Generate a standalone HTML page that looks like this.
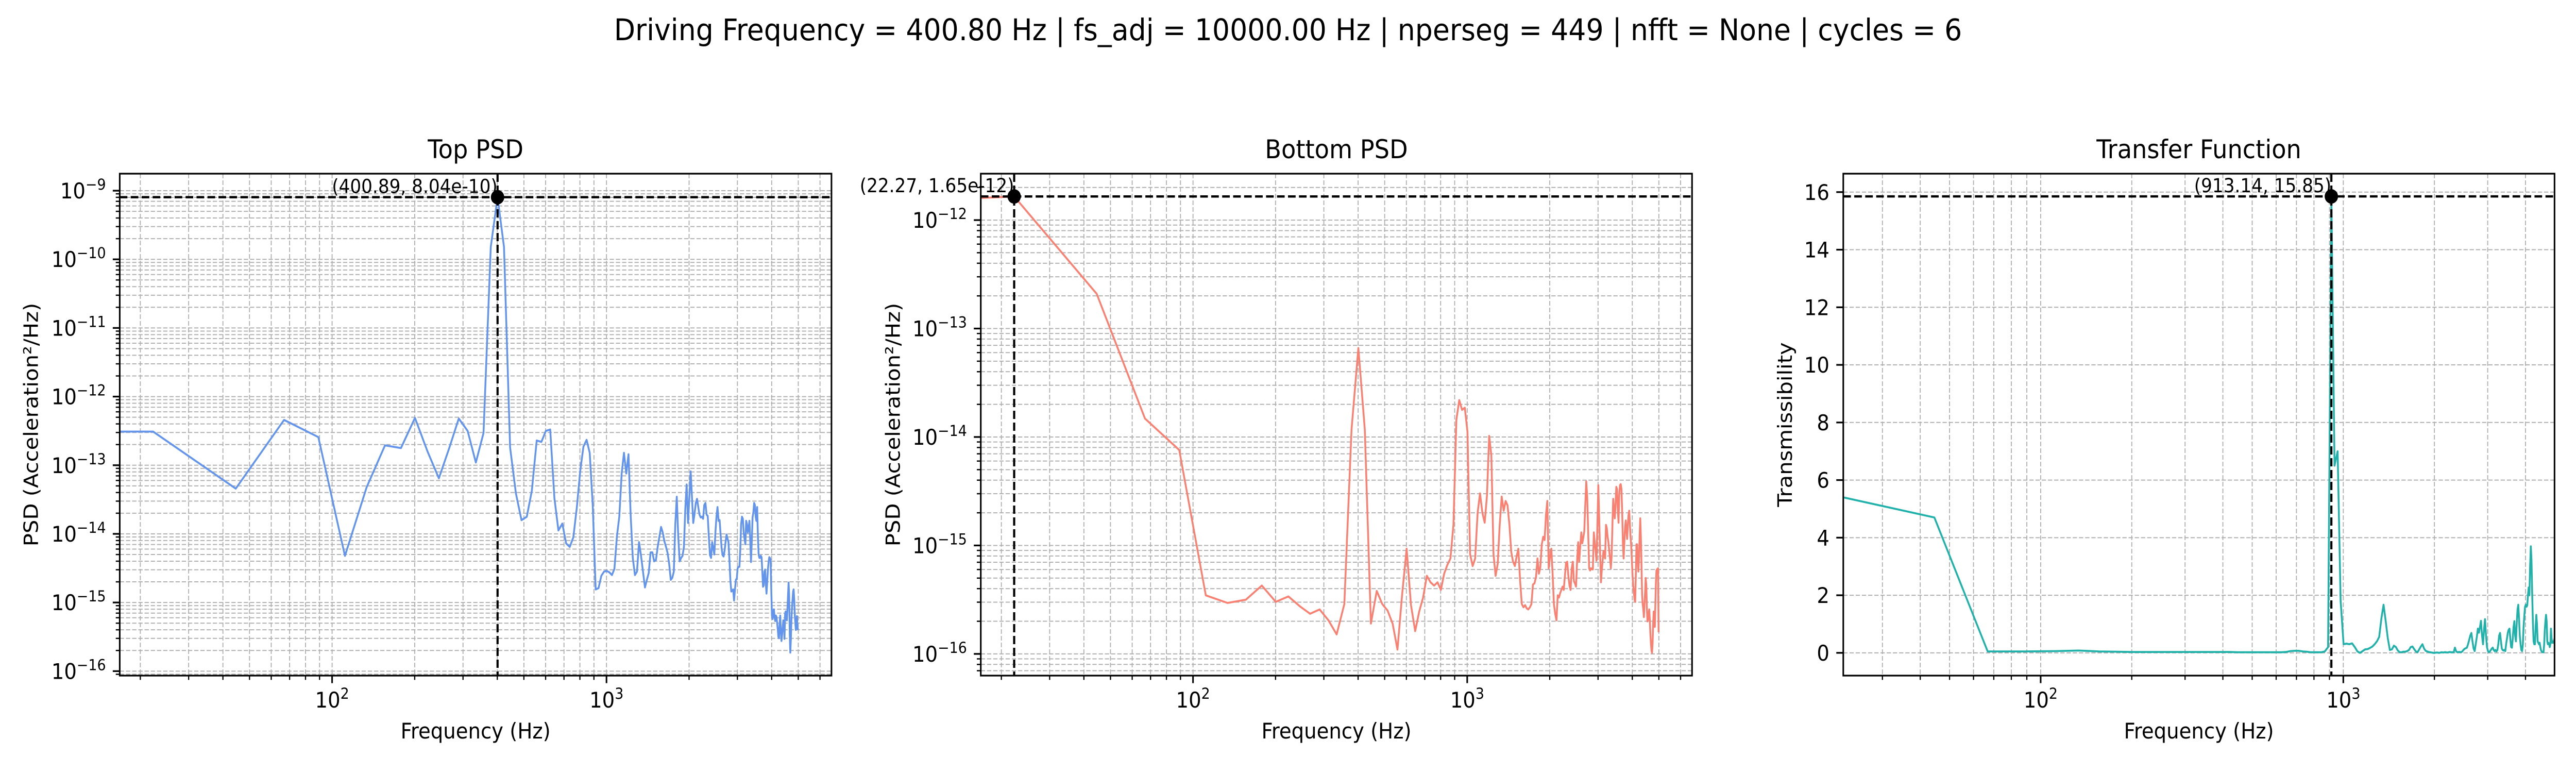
<!DOCTYPE html>
<html><head><meta charset="utf-8"><title>PSD chart</title>
<style>html,body{margin:0;padding:0;background:#fff;overflow:hidden;width:100%;height:100%}svg{display:block;width:100vw;height:100vh}</style></head>
<body>
<svg id="fig" viewBox="0 0 5400 1500" preserveAspectRatio="none" xmlns="http://www.w3.org/2000/svg" font-family="'DejaVu Sans','Liberation Sans',sans-serif">
<rect x="0" y="0" width="5400" height="1500" fill="#fff"/>
<text x="2700" y="78" font-size="58" text-anchor="middle" fill="#000">Driving Frequency = 400.80 Hz | fs_adj = 10000.00 Hz | nperseg = 449 | nfft = None | cycles = 6</text>
</svg>
<script>
// ---- data ----
const sampleRate = 10000;
const nperseg = 449;
const binCount = 225;
// Top PSD, log10 of value, bins k=0..224
const topPsdLog10 = [
-12.51,-12.51,-13.34,-12.34,-12.59,-14.32,-13.32,-12.71,-12.75,-12.31,
-12.80,-13.19,-12.75,-12.32,-12.50,-12.96,-12.53,-9.82,-9.0947,-9.82,
-12.74,-13.41,-13.80,-13.75,-13.37,-12.64,-12.66,-12.50,-12.48,-13.48,
-13.95,-13.85,-14.14,-14.19,-14.05,-13.62,-13.09,-12.73,-12.63,-12.82,
-13.58,-14.81,-14.79,-14.61,-14.55,-14.54,-14.56,-14.60,-14.51,-14.04,
-13.75,-13.12,-12.82,-13.12,-12.84,-13.72,-14.35,-14.60,-14.55,-14.12,
-14.32,-14.55,-14.78,-14.67,-14.57,-14.27,-14.27,-14.40,-14.38,-14.19,
-14.04,-13.90,-13.98,-14.11,-14.19,-14.28,-14.44,-14.67,-14.64,-14.55,
-13.86,-13.46,-14.04,-14.40,-14.35,-14.32,-14.19,-13.63,-13.28,-13.84,
-13.46,-13.09,-13.46,-13.84,-13.71,-13.55,-13.49,-13.61,-13.72,-13.76,
-13.75,-13.78,-13.58,-13.55,-13.72,-13.74,-14.04,-14.31,-14.35,-14.12,
-14.21,-14.30,-13.98,-13.75,-13.61,-13.81,-13.80,-14.01,-14.21,-14.31,
-14.33,-14.24,-14.12,-14.01,-14.07,-14.12,-14.38,-14.68,-14.84,-14.83,
-14.81,-14.97,-14.81,-14.67,-14.65,-14.50,-14.48,-14.48,-14.24,-13.86,
-13.75,-13.78,-13.98,-14.07,-14.15,-13.81,-13.86,-13.98,-13.92,-13.81,
-14.09,-14.41,-14.09,-13.76,-13.69,-13.55,-13.58,-13.75,-13.81,-13.61,
-14.04,-14.30,-14.35,-14.35,-14.32,-14.34,-14.55,-14.77,-14.75,-14.55,
-14.52,-14.73,-14.87,-14.70,-14.52,-14.41,-14.34,-14.35,-14.38,-14.81,
-15.19,-15.24,-15.13,-15.10,-15.21,-15.27,-15.19,-15.21,-15.30,-15.39,
-15.50,-15.52,-15.30,-15.19,-15.42,-15.56,-15.47,-15.36,-15.26,-15.30,
-15.53,-15.16,-15.13,-15.21,-15.26,-15.10,-14.90,-14.71,-14.90,-15.44,
-15.73,-15.53,-15.24,-15.07,-14.96,-14.84,-14.81,-14.96,-15.16,-15.30,
-15.40,-15.30,-15.20,-15.35,-15.40];
// Bottom PSD, log10 of value, bins k=0..224
const bottomPsdLog10 = [
-11.80,-11.782,-12.68,-13.83,-14.12,-15.46,-15.53,-15.50,-15.37,-15.52,
-15.47,-15.56,-15.63,-15.59,-15.69,-15.82,-15.54,-13.93,-13.18,-13.93,
-15.72,-15.42,-15.54,-15.60,-15.72,-15.96,-15.45,-15.03,-15.55,-15.79,
-15.61,-15.48,-15.28,-15.34,-15.37,-15.34,-15.41,-15.26,-15.18,-15.12,
-14.81,-13.84,-13.66,-13.75,-13.73,-13.95,-15.08,-15.19,-15.12,-14.70,
-14.52,-14.70,-14.79,-14.54,-13.99,-14.17,-15.08,-15.28,-15.17,-14.81,
-14.55,-14.68,-14.59,-14.63,-14.81,-15.06,-15.15,-15.19,-15.10,-15.03,
-15.32,-15.54,-15.57,-15.55,-15.58,-15.59,-15.57,-15.54,-15.36,-15.35,
-15.29,-15.12,-15.26,-15.20,-14.99,-14.92,-14.95,-14.72,-14.59,-15.21,
-15.10,-15.03,-15.26,-15.54,-15.63,-15.69,-15.46,-15.48,-15.44,-15.41,
-15.38,-15.41,-15.28,-15.16,-15.15,-15.28,-15.37,-15.41,-15.21,-15.15,
-15.33,-15.35,-15.38,-15.14,-14.97,-15.15,-15.01,-14.88,-14.98,-14.93,
-14.87,-14.63,-14.41,-14.55,-14.88,-15.21,-15.23,-15.21,-15.22,-15.22,
-14.88,-14.97,-15.05,-15.14,-14.81,-14.445,-14.74,-15.05,-15.34,-15.23,
-15.14,-15.05,-15.08,-15.12,-14.81,-14.84,-14.92,-14.97,-15.05,-15.12,
-15.21,-15.10,-14.81,-14.57,-14.66,-14.75,-14.63,-14.46,-14.48,-14.66,
-14.79,-14.52,-14.445,-14.435,-14.48,-14.70,-14.99,-15.12,-14.97,-14.84,
-14.77,-14.86,-14.94,-14.81,-14.72,-14.68,-14.81,-14.92,-15.01,-15.14,
-15.28,-15.37,-15.43,-15.50,-15.52,-15.28,-14.99,-14.99,-15.14,-15.24,
-15.12,-14.92,-14.75,-14.92,-15.17,-15.46,-15.54,-15.59,-15.66,-15.54,
-15.43,-15.30,-15.37,-15.57,-15.70,-15.68,-15.63,-15.59,-15.68,-15.81,
-15.90,-15.97,-15.99,-15.90,-15.72,-15.61,-15.68,-15.75,-15.54,-15.35,
-15.23,-15.22,-15.22,-15.21,-15.80];
// Transmissibility, bins k=1..224
const transferValues = [
5.4,4.7,0.05,0.05,0.06,0.08,0.05,0.04,0.03,0.03,
0.03,0.03,0.03,0.03,0.03,0.03,0.03,0.03,0.03,0.02,
0.02,0.02,0.02,0.02,0.02,0.02,0.02,0.02,0.03,0.06,
0.07,0.07,0.05,0.04,0.02,0.02,0.02,0.02,0.05,0.2,
15.85,6.5,7.0,1.8,0.3,0.32,0.3,0.33,0.2,0.05,
0.0,0.06,0.12,0.13,0.17,0.22,0.3,0.4,0.55,1.2,
1.67,1.1,0.5,0.1,0.12,0.25,0.2,0.08,0.02,0.02,
0.04,0.04,0.06,0.1,0.2,0.22,0.13,0.05,0.02,0.12,
0.22,0.3,0.15,0.07,0.05,0.03,0.02,0.01,0.0,0.0,
0.01,0.01,0.0,0.01,0.02,0.01,0.02,0.02,0.01,0.02,
0.03,0.02,0.02,
0.02,0.18,0.05,0.02,0.03,0.03,0.02,0.05,0.1,0.14,
0.16,0.18,0.3,0.45,0.6,0.69,0.4,0.15,0.06,0.3,
0.55,0.84,0.7,0.9,1.11,0.6,0.3,0.8,1.17,0.6,
0.2,0.06,0.02,0.05,0.1,0.15,0.18,0.1,0.06,0.1,
0.05,0.1,0.3,0.6,0.69,0.4,0.15,0.1,0.08,0.1,
0.06,0.3,0.5,0.7,0.8,0.84,0.5,0.2,0.18,0.5,
0.9,1.1,0.6,0.4,1.0,1.5,1.67,1.2,0.6,0.3,
0.1,0.06,0.3,0.9,1.3,1.6,1.67,1.6,1.65,2.0,
2.27,2.0,3.0,3.7,3.2,2.0,1.1,0.4,0.3,0.3,
0.9,1.32,1.0,0.4,0.35,0.3,0.35,0.2,0.1,0.05,
0.03,0.02,0.02,0.3,0.8,1.1,1.32,1.1,0.4,0.3,
0.35,0.3,0.2,0.3,0.84,0.5,0.35,0.4,0.35,0.4,0.5];
const logYTickExps = [[-16,-15,-14,-13,-12,-11,-10,-9],[-16,-15,-14,-13,-12]];
const linYTicks = [0,2,4,6,8,10,12,14,16];

// ---- drawing ----
const NS = 'http://www.w3.org/2000/svg';
const svg = document.getElementById('fig');
const df = sampleRate / nperseg;
function el(tag, parent) { const e = document.createElementNS(NS, tag); parent.appendChild(e); return e; }
function attrs(e, o) { for (const k in o) e.setAttribute(k, o[k]); return e; }

const panels = [
  {key:'top', title:'Top PSD', ylabel:'PSD (Acceleration²/Hz)', left:251, right:1743, top:337, bottom:1311,
   xlim:[1.226,3.820], ylog:true, ylim:[-16.065,-8.752], color:'#6495ED', data:topPsdLog10, start:0, yticks:logYTickExps[0], ylabelX:66, yMinorGrid:true},
  {key:'bottom', title:'Bottom PSD', ylabel:'PSD (Acceleration²/Hz)', left:2056, right:3547, top:337, bottom:1311,
   xlim:[1.226,3.820], ylog:true, ylim:[-16.20,-11.572], color:'#FA8072', data:bottomPsdLog10, start:0, yticks:logYTickExps[1], ylabelX:1873, yMinorGrid:true},
  {key:'transfer', title:'Transfer Function', ylabel:'Transmissibility', left:3864, right:5355, top:337, bottom:1311,
   xlim:[Math.log10(df), Math.log10(df*(binCount-1))], ylog:false, ylim:[-0.79,16.64], color:'#20B2AA', data:transferValues, start:1, yticks:linYTicks, ylabelX:3743, yMinorGrid:false}
];

panels.forEach(p => {
  const g = el('g', svg);
  
  
  const xs = f => f <= 0 ? p.left - 20 : p.left + (Math.log10(f) - p.xlim[0]) / (p.xlim[1] - p.xlim[0]) * (p.right - p.left);
  const xsl = lg => p.left + (lg - p.xlim[0]) / (p.xlim[1] - p.xlim[0]) * (p.right - p.left);
  const ysv = v => p.bottom - (v - p.ylim[0]) / (p.ylim[1] - p.ylim[0]) * (p.bottom - p.top);
  const H = p.bottom - p.top;

  const cp = el('clipPath', g); cp.setAttribute('id', 'clip-' + p.key);
  attrs(el('rect', cp), {x:p.left, y:p.top, width:p.right-p.left, height:H});

  const grid = el('g', g);
  
  
  attrs(grid, {stroke:'#b0b0b0', 'stroke-width':2, 'stroke-dasharray':'9,4', fill:'none'});
  const xMajor = [], xMinor = [];
  for (let d = Math.floor(p.xlim[0]); d <= Math.ceil(p.xlim[1]); d++) {
    for (let m = 1; m <= 9; m++) {
      const lg = d + Math.log10(m);
      if (lg < p.xlim[0] - 1e-6 || lg > p.xlim[1] + 1e-6) continue;
      (m === 1 ? xMajor : xMinor).push(lg);
    }
  }
  [...xMajor, ...xMinor].forEach(lg => {
    const x = xsl(lg);
    const ln = attrs(el('line', grid), {x1:x, x2:x, y1:p.top, y2:p.bottom});
    
    
  });
  const yMajor = [], yMinor = [];
  if (p.ylog) {
    for (let d = Math.floor(p.ylim[0]); d <= Math.ceil(p.ylim[1]); d++) {
      for (let m = 1; m <= 9; m++) {
        const lg = d + Math.log10(m);
        if (lg < p.ylim[0] || lg > p.ylim[1]) continue;
        (m === 1 ? yMajor : yMinor).push(lg);
      }
    }
  } else { p.yticks.forEach(v => yMajor.push(v)); }
  (p.yMinorGrid ? [...yMajor, ...yMinor] : yMajor).forEach(v => {
    const y = ysv(v);
    const ln = attrs(el('line', grid), {x1:p.left, x2:p.right, y1:y, y2:y});
    
    
  });

  let dstr = '';
  p.data.forEach((v, i) => {
    const f = (i + p.start) * df;
    dstr += (i ? 'L' : 'M') + xs(f).toFixed(1) + ',' + ysv(v).toFixed(1);
  });
  const path = attrs(el('path', g), {d:dstr, fill:'none', stroke:p.color, 'stroke-width':3.8, 'stroke-linejoin':'round', 'clip-path':'url(#clip-' + p.key + ')'});
  
  

  let best = -1, bv = -Infinity;
  p.data.forEach((v, i) => { if (i + p.start >= 1 && v > bv) { bv = v; best = i; } });
  const pf = (best + p.start) * df;
  const px = xs(pf), py = ysv(bv);
  const realV = p.ylog ? Math.pow(10, bv) : bv;
  const ann = el('g', g);
  
  
  const hl = attrs(el('line', ann), {x1:p.left, x2:p.right, y1:py, y2:py, stroke:'#000', 'stroke-width':4.5, 'stroke-dasharray':'16,7'});
  
  
  const vl = attrs(el('line', ann), {x1:px, x2:px, y1:p.top, y2:p.bottom, stroke:'#000', 'stroke-width':4.5, 'stroke-dasharray':'16,7'});
  
  
  const dot = attrs(el('circle', ann), {cx:px, cy:py, r:14, fill:'#000'});
  
  
  const at = attrs(el('text', ann), {x:px, y:py - 8, 'font-size':37, 'text-anchor':'end', fill:'#000'});
  at.textContent = '(' + pf.toFixed(2) + ', ' + (p.ylog ? realV.toExponential(2) : realV.toFixed(2)) + ')';
  
  

  const sp = attrs(el('rect', g), {x:p.left, y:p.top, width:p.right-p.left, height:H, fill:'none', stroke:'#000', 'stroke-width':3.3});
  
  

  const xt = el('g', g);
  
  
  xMajor.forEach(lg => {
    const x = xsl(lg);
    attrs(el('line', xt), {x1:x, x2:x, y1:p.bottom, y2:p.bottom + 14.6, stroke:'#000', 'stroke-width':3.3});
    const t = attrs(el('text', xt), {x:x, y:p.bottom + 62, 'font-size':41.7, 'text-anchor':'middle', fill:'#000'});
    
    
    t.appendChild(document.createTextNode('10'));
    const s = attrs(el('tspan', t), {dy:-17, 'font-size':29});
    s.textContent = String(Math.round(lg));
  });
  xMinor.forEach(lg => {
    const x = xsl(lg);
    attrs(el('line', xt), {x1:x, x2:x, y1:p.bottom, y2:p.bottom + 8.3, stroke:'#000', 'stroke-width':2.5});
  });
  const xl = attrs(el('text', xt), {x:(p.left + p.right) / 2, y:1433, 'font-size':41.7, 'text-anchor':'middle', fill:'#000'});
  xl.textContent = 'Frequency (Hz)';
  
  

  const yt = el('g', g);
  
  
  p.yticks.forEach(v => {
    if (v < p.ylim[0] || v > p.ylim[1]) return;
    const y = ysv(v);
    attrs(el('line', yt), {x1:p.left - 14.6, x2:p.left, y1:y, y2:y, stroke:'#000', 'stroke-width':3.3});
    const t = attrs(el('text', yt), {x:p.left - 29, y:y + 15, 'font-size':41.7, 'text-anchor':'end', fill:'#000'});
    
    
    if (p.ylog) {
      t.appendChild(document.createTextNode('10'));
      const s = attrs(el('tspan', t), {dy:-17, 'font-size':29});
      s.textContent = '\u2212' + Math.abs(v);
    } else { t.textContent = String(v); }
  });
  if (p.ylog) yMinor.forEach(v => {
    const y = ysv(v);
    attrs(el('line', yt), {x1:p.left - 8.3, x2:p.left, y1:y, y2:y, stroke:'#000', 'stroke-width':2.5});
  });
  const cy = (p.top + p.bottom) / 2;
  const yl = attrs(el('text', yt), {x:p.ylabelX, y:cy, 'font-size':41.7, 'text-anchor':'middle', 'dominant-baseline':'central', fill:'#000', transform:'rotate(-90 ' + p.ylabelX + ' ' + cy + ')'});
  yl.textContent = p.ylabel;
  
  

  const tt = attrs(el('text', g), {x:(p.left + p.right) / 2, y:307, 'font-size':50, 'text-anchor':'middle', fill:'#000'});
  tt.textContent = p.title;
  
  
});
</script>
</body></html>
